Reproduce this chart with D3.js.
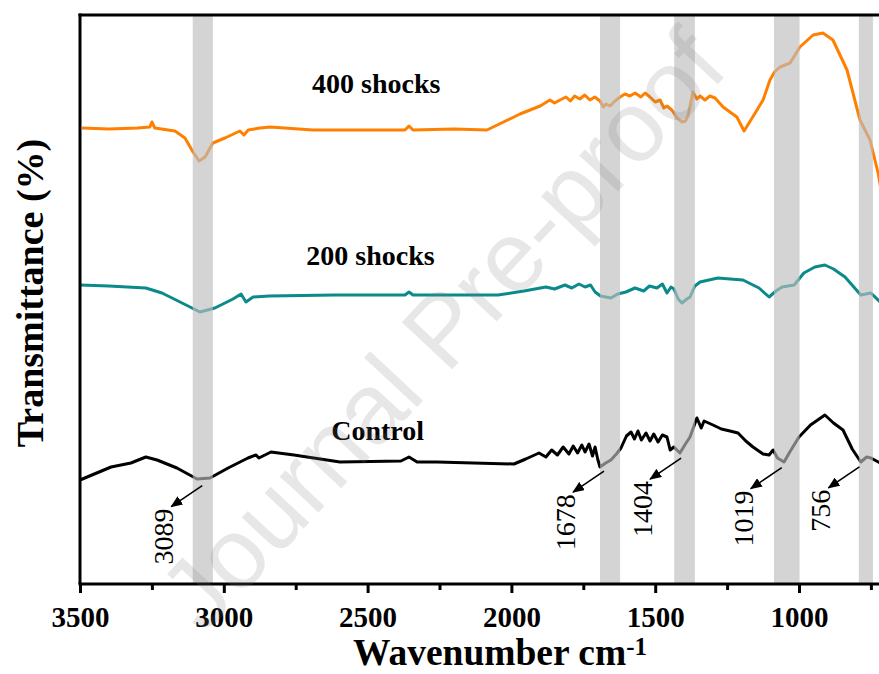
<!DOCTYPE html>
<html>
<head>
<meta charset="utf-8">
<script src="https://cdn.jsdelivr.net/npm/d3@7"></script>
<style>
  html, body { margin: 0; padding: 0; background: #fff; }
  svg { display: block; }
</style>
</head>
<body>
<svg id="chart" width="879" height="674"></svg>
<script>
// ---------------- DATA ----------------
const seriesNames = ["400 shocks", "200 shocks", "Control"];
const seriesColors = ["#ff8000", "#0a8a8a", "#000000"];

// 400 shocks: wavenumber (cm-1) and transmittance (arb. units)
const wn400 = [3493,3400,3300,3257,3250,3240,3170,3135,3107,3086,3065,3038,2996,2944,2930,2915,2874,2839,2690,2526,2370,2356,2342,2200,2085,1970,1900,1866,1850,1831,1810,1795,1780,1762,1745,1727,1710,1692,1680,1671,1657,1640,1622,1605,1588,1570,1550,1535,1518,1500,1483,1470,1459,1442,1424,1407,1395,1386,1369,1355,1344,1327,1310,1292,1264,1216,1191,1146,1125,1101,1085,1066,1031,997,951,917,882,833,788,753,725,712];
const t400  = [91.2,91.0,91.2,91.4,92.4,91.2,90.6,89.2,86.4,84.6,85.4,88.2,89.2,90.6,89.8,90.8,91.2,91.4,90.8,90.8,90.8,91.6,90.8,91.0,90.8,94.0,95.6,96.8,96.2,96.8,97.4,96.6,97.6,97.0,97.8,96.8,97.4,96.6,95.4,96.0,95.6,96.6,97.4,98.0,97.6,98.2,97.4,98.2,97.4,96.4,96.8,95.2,95.6,94.8,93.2,92.4,92.6,93.6,98.4,97.0,97.6,96.8,97.6,97.2,95.4,93.4,90.6,94.8,96.8,100.8,102.4,103.4,104.2,107.4,109.8,110.2,108.8,102.8,92.8,88.8,82.2,78.0];

// 200 shocks
const wn200 = [3500,3400,3271,3215,3145,3083,3031,2968,2940,2923,2898,2843,2613,2370,2356,2342,2047,1956,1880,1850,1814,1790,1765,1744,1725,1709,1690,1654,1630,1602,1570,1540,1520,1494,1475,1459,1445,1435,1420,1407,1390,1379,1362,1344,1282,1240,1195,1160,1139,1104,1080,1059,1017,983,945,910,880,840,785,750,718,712];
const t200  = [59.8,59.6,59.2,58.2,56.2,54.4,55.2,57.0,58.0,56.4,57.4,57.6,57.8,57.8,58.4,57.8,57.8,58.6,59.4,59.0,59.8,59.2,60.0,59.4,59.8,58.4,57.6,57.2,58.0,58.4,59.2,58.6,59.6,59.2,60.0,58.2,59.4,59.0,57.0,56.2,57.0,57.4,59.6,60.4,61.2,61.0,60.8,59.8,59.2,57.4,58.6,59.4,59.8,62.2,63.4,63.8,63.0,61.4,57.8,58.2,56.4,55.6];

// Control
const wnCtrl = [3500,3392,3323,3271,3232,3163,3093,3048,2985,2916,2888,2878,2836,2756,2596,2384,2356,2328,2259,1991,1950,1904,1880,1860,1840,1820,1800,1785,1770,1755,1744,1730,1718,1709,1700,1692,1672,1654,1635,1619,1600,1584,1572,1560,1548,1532,1518,1505,1490,1475,1459,1448,1435,1414,1395,1379,1355,1340,1330,1299,1270,1240,1212,1185,1160,1125,1104,1090,1075,1052,1030,1000,960,910,880,847,815,785,765,750,718,712];
const tCtrl  = [20.8,23.4,24.2,25.4,24.8,23.2,21.0,21.2,23.2,25.2,25.8,25.2,26.4,25.8,24.4,24.6,25.4,24.4,24.4,24.0,25.0,26.2,25.4,26.8,25.8,27.4,26.0,27.6,26.2,27.8,26.4,28.0,25.6,27.4,25.0,23.4,24.2,24.8,26.0,27.2,29.6,30.4,29.0,30.6,28.8,30.2,28.6,30.0,28.4,29.8,29.4,26.8,27.4,26.2,28.0,29.4,33.2,31.2,32.6,31.8,31.0,30.6,30.2,28.6,27.4,26.0,25.8,26.8,25.2,24.4,26.6,29.4,31.8,33.8,32.2,30.8,27.0,24.4,25.4,25.2,24.2,24.0];

// Highlighted absorption bands [high, low] in cm-1
const bandHigh = [3108, 1692, 1434, 1087, 792];
const bandLow  = [3038, 1622, 1362,  998, 743];

// Peak annotations
const annLabels = ["3089", "1678", "1404", "1019", "756"];
const annAt     = [3075, 1678, 1410, 1060, 790];

// Axis ticks
const majorTicks = [3500, 3000, 2500, 2000, 1500, 1000];
const minorTicks = [3250, 2750, 2250, 1750, 1250, 750];

// ---------------- CHART ----------------
const svg = d3.select("#chart");
const pTop = 15, pBottom = 584, pLeft = 80;
const x = d3.scaleLinear().domain([3500, 1000]).range([pLeft, 799]);
const xEnd = 710;
const pRight = x(xEnd);
x.domain([3500, xEnd]).range([pLeft, pRight]);
const y = d3.scaleLinear().domain([0, 113.8]).range([pBottom, pTop]);

const serif = "'Times New Roman', 'Liberation Serif', serif";

const defs = svg.append("defs");
defs.append("clipPath").attr("id", "plotclip")
  .append("rect").attr("x", pLeft).attr("y", pTop).attr("width", pRight - pLeft).attr("height", pBottom - pTop);

const series = [
  {name: seriesNames[0], wn: wn400, t: t400, color: seriesColors[0]},
  {name: seriesNames[1], wn: wn200, t: t200, color: seriesColors[1]},
  {name: seriesNames[2], wn: wnCtrl, t: tCtrl, color: seriesColors[2]}
];

const line = d3.line().x(d => x(d[0])).y(d => y(d[1])).curve(d3.curveLinear);
const plot = svg.append("g").attr("clip-path", "url(#plotclip)");

series.forEach(s => {
  plot.append("path")
    .datum(s.wn.map((w, i) => [w, s.t[i]]))
    .attr("d", line)
    .attr("fill", "none")
    .attr("stroke", s.color)
    .attr("stroke-width", 3)
    .attr("stroke-linejoin", "round");
});

// bands drawn semi-transparent over the lines
bandHigh.forEach((hi, i) => {
  plot.append("rect")
    .attr("x", x(hi)).attr("y", pTop)
    .attr("width", x(bandLow[i]) - x(hi)).attr("height", pBottom - pTop)
    .attr("fill", "#bdbdbd").attr("opacity", 0.65);
});

// series labels
const labelAt = [[2470, 93], [2490, 265], [2465, 440]];
series.forEach((s, i) => {
  svg.append("text")
    .attr("x", x(labelAt[i][0])).attr("y", labelAt[i][1])
    .attr("text-anchor", "middle")
    .attr("font-family", serif).attr("font-weight", "bold").attr("font-size", 28)
    .attr("fill", "#000")
    .text(s.name);
});

// frame
svg.append("line").attr("x1", pLeft - 1.5).attr("x2", pRight + 2).attr("y1", pTop).attr("y2", pTop)
  .attr("stroke", "#000").attr("stroke-width", 3);
svg.append("line").attr("x1", pLeft).attr("x2", pLeft).attr("y1", pTop - 1.5).attr("y2", pBottom)
  .attr("stroke", "#000").attr("stroke-width", 3);

// bottom axis
const gx = svg.append("g").attr("transform", `translate(0,${pBottom})`)
  .call(d3.axisBottom(x).tickValues(majorTicks).tickSize(9).tickSizeOuter(0).tickPadding(13).tickFormat(d3.format("d")));
gx.select(".domain").attr("stroke-width", 3).attr("d", `M${pLeft - 1.5},0H${pRight + 2}`);
gx.selectAll(".tick line").attr("stroke-width", 3);
gx.selectAll(".tick text")
  .attr("font-family", serif).attr("font-weight", "bold").attr("font-size", 29).attr("fill", "#000");

const gm = svg.append("g").attr("transform", `translate(0,${pBottom})`)
  .call(d3.axisBottom(x).tickValues(minorTicks).tickSize(6).tickFormat(""));
gm.select(".domain").remove();
gm.selectAll(".tick line").attr("stroke-width", 3);

// axis titles
svg.append("text")
  .attr("transform", "translate(43,293) rotate(-90)")
  .attr("text-anchor", "middle")
  .attr("font-family", serif).attr("font-weight", "bold").attr("font-size", 38)
  .text("Transmittance (%)");

const xt = svg.append("text")
  .attr("x", 500).attr("y", 665)
  .attr("text-anchor", "middle")
  .attr("font-family", serif).attr("font-weight", "bold").attr("font-size", 37.5);
xt.append("tspan").text("Wavenumber cm");
xt.append("tspan").attr("font-size", 25).attr("dy", -10).text("-1");

// annotations
function ctrlAt(w) {
  for (let i = 0; i < wnCtrl.length - 1; i++) {
    if (w <= wnCtrl[i] && w >= wnCtrl[i + 1]) {
      const f = (wnCtrl[i] - w) / (wnCtrl[i] - wnCtrl[i + 1]);
      return tCtrl[i] + f * (tCtrl[i + 1] - tCtrl[i]);
    }
  }
  return tCtrl[tCtrl.length - 1];
}

defs.append("marker")
  .attr("id", "arrow").attr("markerUnits", "userSpaceOnUse")
  .attr("viewBox", "0 0 12 10").attr("refX", 11).attr("refY", 5)
  .attr("markerWidth", 12).attr("markerHeight", 10).attr("orient", "auto")
  .append("path").attr("d", "M0,0 L12,5 L0,10 Z").attr("fill", "#000");

annLabels.forEach((lab, i) => {
  const sx = x(annAt[i]);
  const sy = y(ctrlAt(annAt[i])) + 7;
  const tx = sx - 31, ty = sy + 21;
  svg.append("line")
    .attr("x1", sx).attr("y1", sy).attr("x2", tx).attr("y2", ty)
    .attr("stroke", "#000").attr("stroke-width", 1.6)
    .attr("marker-end", "url(#arrow)");
  svg.append("text")
    .attr("transform", `translate(${tx + 2},${ty + 2}) rotate(-90)`)
    .attr("text-anchor", "end")
    .attr("font-family", serif).attr("font-size", 28).attr("fill", "#000")
    .text(lab);
});

// watermark
svg.append("text")
  .attr("transform", "translate(448,335) rotate(-47)")
  .attr("text-anchor", "middle")
  .attr("dominant-baseline", "middle")
  .attr("font-family", "'Liberation Sans', Arial, sans-serif")
  .attr("font-size", 100)
  .attr("fill", "#808080").attr("opacity", 0.18)
  .attr("pointer-events", "none")
  .text("Journal Pre-proof");
</script>
</body>
</html>
